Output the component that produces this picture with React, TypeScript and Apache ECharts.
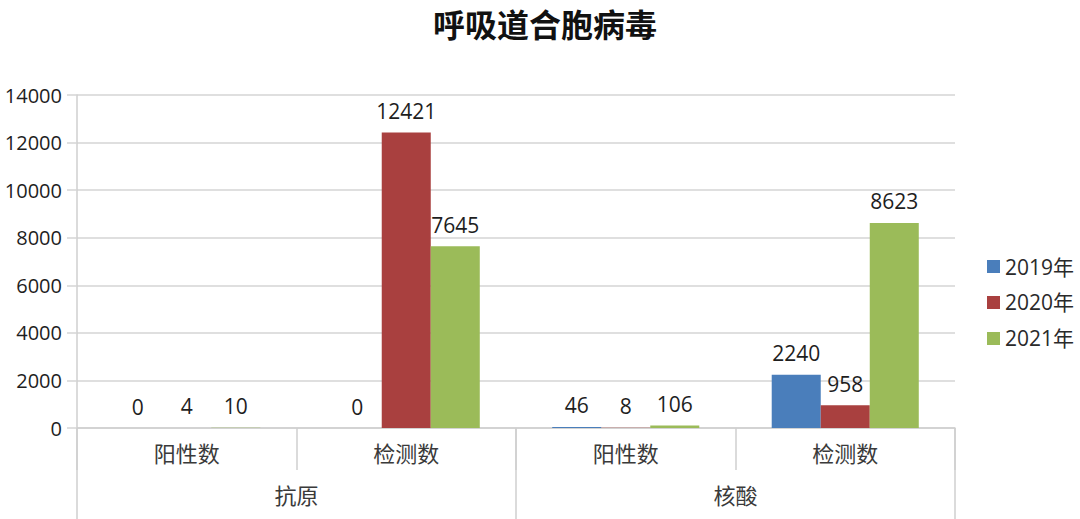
import React, { useEffect, useRef } from 'react';
import * as echarts from 'echarts';

const subCategories = ['阳性数', '检测数', '阳性数', '检测数'];
const groupCategories = ['抗原', '核酸'];
const seriesNames = ['2019年', '2020年', '2021年'];
const values2019 = [0, 0, 46, 2240];
const values2020 = [4, 12421, 8, 958];
const values2021 = [10, 7645, 106, 8623];
const colors = ['#4a7ebb', '#a9403f', '#9bbb59'];

const FONT = '"Open Sans", "Noto Sans CJK SC", sans-serif';

export default function App() {
  const chartRef = useRef<HTMLDivElement>(null);

  useEffect(() => {
    if (!chartRef.current) return;
    const chart = echarts.init(chartRef.current, undefined, { renderer: 'svg' });

    const allValues = [values2019, values2020, values2021];

    const option: echarts.EChartsOption = {
      animation: false,
      backgroundColor: '#fff',
      textStyle: { fontFamily: FONT },
      title: {
        text: '呼吸道合胞病毒',
        left: 433,
        top: 6,
        padding: 0,
        textStyle: { fontSize: 32, lineHeight: 34, fontWeight: 'bold', color: '#111', fontFamily: '"Noto Sans CJK SC", sans-serif' },
      },
      legend: {
        orient: 'vertical',
        left: 982,
        top: 251,
        itemWidth: 13,
        itemHeight: 13,
        itemGap: 15,
        icon: 'rect',
        textStyle: { fontSize: 21, color: '#2a2a2a', fontFamily: FONT },
        data: seriesNames,
      },
      grid: { left: 77, right: 125, top: 95, bottom: 91 },
      xAxis: [
        {
          type: 'category',
          data: subCategories,
          position: 'bottom',
          axisLine: { show: true, lineStyle: { color: '#cfcfcf', width: 1.5 } },
          axisTick: { show: true, alignWithLabel: false, length: 42, lineStyle: { color: '#cfcfcf', width: 1.5 } },
          axisLabel: { fontSize: 22, color: '#3a3a3a', margin: 14, fontFamily: FONT },
        },
        {
          type: 'category',
          data: groupCategories,
          position: 'bottom',
          axisLine: { show: false },
          axisTick: { show: true, alignWithLabel: false, length: 91, lineStyle: { color: '#cfcfcf', width: 1.5 } },
          axisLabel: { fontSize: 22, color: '#3a3a3a', margin: 56, fontFamily: FONT },
        },
      ],
      yAxis: {
        type: 'value',
        min: 0,
        max: 14000,
        interval: 2000,
        axisLine: { show: true, lineStyle: { color: '#cfcfcf', width: 1.5 } },
        axisTick: { show: true, length: 10, lineStyle: { color: '#d4d4d4', width: 1.5 } },
        axisLabel: { fontSize: 20, color: '#1e1e1e', margin: 15, fontFamily: FONT, formatter: (v: number) => String(v) },
        splitLine: { lineStyle: { color: '#d4d4d4', width: 1.5 } },
      },
      series: seriesNames.map((name, i) => ({
        name,
        type: 'bar' as const,
        xAxisIndex: 0,
        data: allValues[i],
        barGap: '0%',
        barCategoryGap: '33%',
        itemStyle: { color: colors[i] },
        label: {
          show: true,
          position: 'top' as const,
          distance: 11,
          fontSize: 21,
          color: '#1e1e1e',
          fontFamily: FONT,
        },
      })),
    };

    chart.setOption(option);
    return () => chart.dispose();
  }, []);

  return (
    <div
      ref={chartRef}
      style={{ position: 'absolute', left: 0, top: 0, width: 1080, height: 519 }}
    />
  );
}
